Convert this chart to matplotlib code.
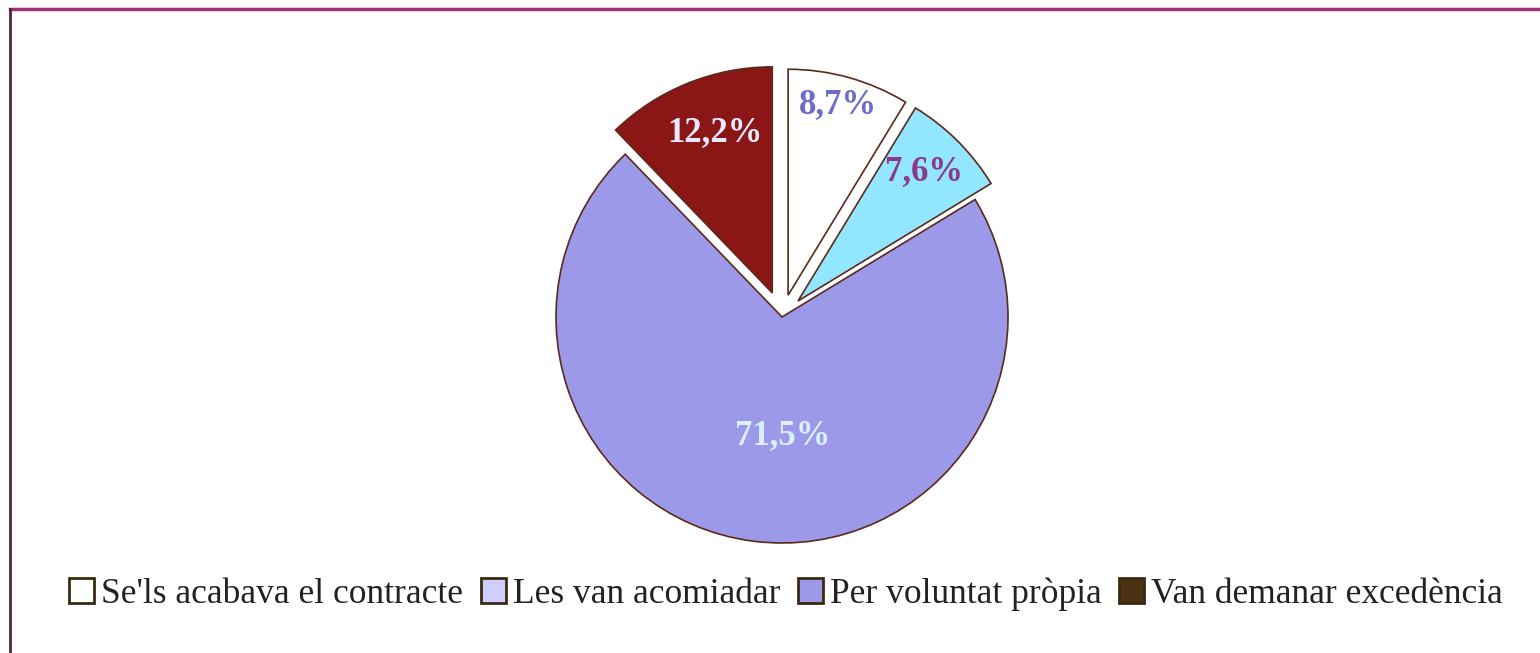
import matplotlib
matplotlib.use("Agg")
import matplotlib.pyplot as plt
from matplotlib.patches import Patch
from matplotlib.lines import Line2D

categories = ["Se'ls acabava el contracte", "Les van acomiadar",
              "Per voluntat pròpia", "Van demanar excedència"]
values = [8.7, 7.6, 71.5, 12.2]
value_labels = ["8,7%", "7,6%", "71,5%", "12,2%"]

slice_colors = ["#ffffff", "#92e6ff", "#9c9ae8", "#8a1616"]
legend_colors = ["#ffffff", "#cfcfff", "#9c9ae8", "#4a3212"]
label_colors = ["#6c6cc8", "#8a3a8a", "#d8f0ff", "#e8e8ff"]
explode_frac = [0.1, 0.1, 0.0, 0.115]

W, H = 1540, 653
fig = plt.figure(figsize=(W / 100, H / 100), dpi=100)
ax = fig.add_axes([0, 0, 1, 1])

cx, cy, R = 782, H - 317, 226
wedges, texts = ax.pie(values, colors=slice_colors,
                       explode=[e * R for e in explode_frac],
                       startangle=90, counterclock=False,
                       center=(cx, cy), radius=R, frame=True,
                       wedgeprops=dict(edgecolor="#5a2a1a", linewidth=1.2))
ax.set_xlim(0, W)
ax.set_ylim(0, H)
ax.set_aspect("equal")
ax.axis("off")

label_pos = [(838, 105), (924, 172), (783, 436), (715, 133)]
for (x, y), t, c in zip(label_pos, value_labels, label_colors):
    ax.text(x, H - y, t, ha="center", va="center", fontsize=25,
            family="Liberation Serif", color=c, fontweight="bold")

# frame lines
fig.add_artist(Line2D([10 / W, 1], [1 - 9 / H, 1 - 9 / H], color="#a0307a", lw=2.5))
fig.add_artist(Line2D([10 / W, 10 / W], [0, 1 - 9 / H], color="#4a2a2a", lw=2))

handles = [Patch(facecolor=c, edgecolor="#3a2a10", linewidth=2) for c in legend_colors]
fig.legend(handles, categories, loc="center", bbox_to_anchor=(786 / W, 1 - 594 / H),
           ncol=4, frameon=False, prop=dict(family="Liberation Serif", size=25.5),
           handlelength=0.7, handleheight=0.7, handletextpad=0.2,
           columnspacing=0.5, labelcolor="#222222")

fig.savefig("out.png", dpi=100)
